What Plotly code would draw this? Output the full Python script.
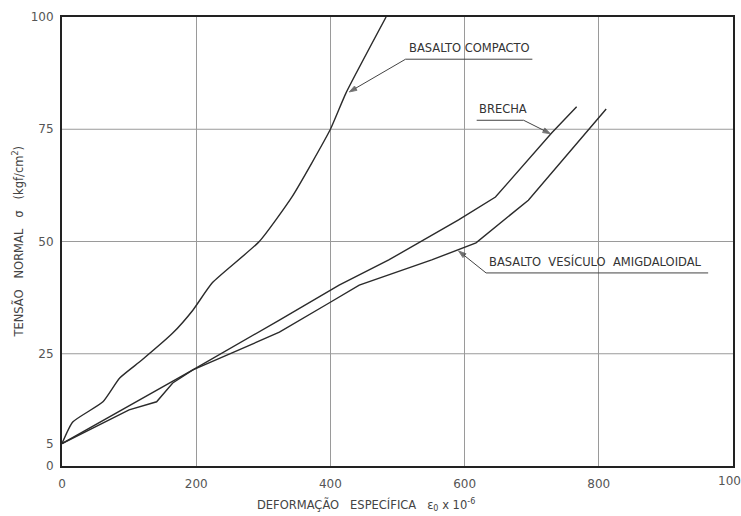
import plotly.graph_objects as go

# ---- data ----
compacto_x = [0, 16, 61, 86, 119, 165, 195, 224, 294, 343, 400, 423, 483]
compacto_y = [5, 9.8, 14.3, 19.6, 23.6, 29.6, 34.7, 40.8, 50, 60, 75, 83, 100]

brecha_x = [0, 195, 324, 413, 487, 591, 646, 730, 767]
brecha_y = [5, 21.4, 32.5, 40.3, 45.9, 54.8, 59.9, 74.2, 80]

vesiculo_x = [0, 100, 141, 165, 195, 324, 398, 443, 551, 617, 695, 811]
vesiculo_y = [5, 12.5, 14.3, 18.5, 21.4, 29.8, 36.3, 40.3, 45.9, 49.7, 59.2, 79.5]

x_ticks = [0, 200, 400, 600, 800, 1000]
x_ticklabels = ["0", "200", "400", "600", "800", "1000"]
y_ticks = [0, 5, 25, 50, 75, 100]
y_ticklabels = ["0", "5", "25", "50", "75", "100"]
y_grid = [25, 50, 75]

labels = ["BASALTO COMPACTO", "BRECHA", "BASALTO  VESÍCULO  AMIGDALOIDAL"]
# label: (text x, underline y, underline x0, x1, leader tail x, tail y, tip x, tip y)
label_pos = [
    (514, 90.6, 512, 701, 512, 90.6, 428, 83.3),
    (618, 77.0, 618, 688, 688, 77.0, 728, 74.0),
    (634, 43.0, 632, 963, 632, 43.0, 591, 47.9),
]

LINE = "#2b2b2b"
TXT = "#444444"
FONT = "DejaVu Sans"

fig = go.Figure()
curves = [(compacto_x, compacto_y, "spline"), (brecha_x, brecha_y, "linear"),
          (vesiculo_x, vesiculo_y, "linear")]
for xs, ys, shp in curves:
    fig.add_trace(go.Scatter(x=xs, y=ys, mode="lines",
                             line=dict(color=LINE, width=1.4, shape=shp, smoothing=0.5),
                             showlegend=False, hoverinfo="skip"))

shapes = []
for g in y_grid:
    shapes.append(dict(type="line", xref="paper", yref="y", x0=0, x1=1, y0=g, y1=g,
                       line=dict(color="#9a9a9a", width=1), layer="below"))

annotations = []
for text, (tx, uy, ux0, ux1, ax_, ay_, px, py) in zip(labels, label_pos):
    shapes.append(dict(type="line", xref="x", yref="y", x0=ux0, x1=ux1, y0=uy, y1=uy,
                       line=dict(color=TXT, width=1)))
    annotations.append(dict(x=tx, y=uy + 0.4, xref="x", yref="y", text=text,
                            showarrow=False, xanchor="left", yanchor="bottom",
                            font=dict(family=FONT, size=11.5, color="#333")))
    # leader line with arrowhead at the tip
    fig.add_trace(go.Scatter(x=[ax_, px], y=[ay_, py], mode="lines+markers",
                             line=dict(color="#444", width=1),
                             marker=dict(symbol="arrow", size=[0, 8], angleref="previous",
                                         color="#333"),
                             showlegend=False, hoverinfo="skip"))

annotations.append(dict(x=-0.0654, y=0.5, xref="paper", yref="paper",
                        text="TENSÃO   NORMAL   σ   (kgf/cm<sup>2</sup>)",
                        textangle=-90, showarrow=False, xanchor="center", yanchor="middle",
                        font=dict(family=FONT, size=11.5, color=TXT)))
annotations.append(dict(x=0.453, y=-0.087, xref="paper", yref="paper",
                        text="DEFORMAÇÃO   ESPECÍFICA   ε<sub>0</sub> x 10<sup>-6</sup>",
                        showarrow=False, xanchor="center", yanchor="middle",
                        font=dict(family=FONT, size=11.5, color=TXT)))
# last x tick label, partly off the page as in the reference
annotations.append(dict(x=x_ticks[-1], y=0, xref="x", yref="paper", yshift=-15,
                        text=x_ticklabels[-1], showarrow=False,
                        xanchor="center", yanchor="middle",
                        font=dict(family=FONT, size=12, color="#555")))

fig.update_layout(
    width=741, height=516,
    margin=dict(l=62, r=6, t=17, b=50),
    paper_bgcolor="white", plot_bgcolor="white",
    shapes=shapes, annotations=annotations,
    xaxis=dict(range=[0, 1000], tickvals=x_ticks[:-1], ticktext=x_ticklabels[:-1],
               showgrid=True, gridcolor="#9a9a9a", gridwidth=1,
               showline=True, linecolor="#222", linewidth=2, mirror=True,
               zeroline=False, ticks="", ticklabelstandoff=6,
               tickfont=dict(family=FONT, size=12, color="#555")),
    yaxis=dict(range=[0, 100], tickvals=y_ticks, ticktext=y_ticklabels,
               showgrid=False,
               showline=True, linecolor="#222", linewidth=2, mirror=True,
               zeroline=False, ticks="", ticklabelstandoff=4,
               tickfont=dict(family=FONT, size=12, color="#555")),
)

fig.write_html("out.html")
